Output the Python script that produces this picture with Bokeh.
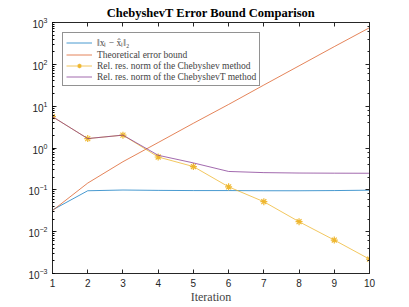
from bokeh.plotting import figure
from bokeh.models import LinearAxis, LogAxis, Range1d, FixedTicker, Legend, LegendItem
from bokeh.embed import file_html
from bokeh.resources import INLINE

iterations = [1, 2, 3, 4, 5, 6, 7, 8, 9, 10]
err_norm = [0.033, 0.095, 0.099, 0.097, 0.096, 0.096, 0.095, 0.095, 0.096, 0.098]
theory_bound = [0.032, 0.145, 0.47, 1.35, 3.9, 11.0, 32.0, 92.0, 265.0, 750.0]
cheb_res = [5.6, 1.68, 2.03, 0.61, 0.36, 0.118, 0.052, 0.0173, 0.0063, 0.0022]
chebT_res = [5.6, 1.68, 2.03, 0.67, 0.44, 0.275, 0.258, 0.252, 0.25, 0.249]
labels = ["‖xₗ − x̂ₗ‖₂", "Theoretical error bound",
          "Rel. res. norm of the Chebyshev method",
          "Rel. res. norm of the ChebyshevT method"]

AX = "#262626"
p = figure(frame_width=317, frame_height=251, y_axis_type="log",
           x_range=Range1d(1, 10), y_range=Range1d(1e-3, 1e3),
           output_backend="svg", toolbar_location=None,
           title="ChebyshevT Error Bound Comparison",
           min_border_left=52, min_border_right=26, min_border_top=0, min_border_bottom=0)
p.title.align = "center"
p.title.text_font = "Liberation Serif"
p.title.text_font_size = "12.5px"
p.title.text_font_style = "bold"
p.title.text_color = "#000000"
p.title.standoff = 6
p.grid.visible = False
p.outline_line_color = AX
p.outline_line_width = 0.8

p.xaxis.ticker = FixedTicker(ticks=iterations)
p.xaxis.axis_label = "Iteration"
p.xaxis.axis_label_text_font = "Liberation Serif"
p.xaxis.axis_label_text_font_style = "normal"
p.xaxis.axis_label_text_font_size = "12px"
p.xaxis.axis_label_standoff = 0
p.xaxis.minor_tick_line_color = None

for ax in [p.xaxis[0], p.yaxis[0]]:
    ax.major_tick_in = 4
    ax.major_tick_out = 0
    ax.minor_tick_in = 2
    ax.minor_tick_out = 0
    ax.axis_line_color = AX
    ax.major_tick_line_color = AX
    ax.major_label_text_font = "Liberation Sans"
    ax.major_label_text_font_size = "10px"
    ax.major_label_text_color = AX
    ax.major_label_standoff = 5

top = LinearAxis(ticker=FixedTicker(ticks=iterations), major_tick_in=4, major_tick_out=0,
                 minor_tick_line_color=None, major_label_text_font_size="1px",
                 major_label_text_alpha=0,
                 axis_line_color=AX, major_tick_line_color=AX, major_label_standoff=0)
right = LogAxis(major_tick_in=4, major_tick_out=0, minor_tick_in=2, minor_tick_out=0,
                major_label_text_font_size="1px", major_label_text_alpha=0,
                axis_line_color=AX,
                major_tick_line_color=AX, minor_tick_line_color=AX, major_label_standoff=0)
p.add_layout(top, "above")
p.add_layout(right, "right")

LA = 0.8
r1 = p.line(iterations, err_norm, line_color="#0072BD", line_width=0.9, line_alpha=LA)
r2 = p.line(iterations, theory_bound, line_color="#D95319", line_width=0.9, line_alpha=LA)
r3 = p.line(iterations, cheb_res, line_color="#EDB120", line_width=0.9, line_alpha=LA)
r3m = p.scatter(iterations, cheb_res, marker="asterisk", size=7, line_color="#EDB120",
                line_width=1.2, line_alpha=0.9)
r4 = p.line(iterations, chebT_res, line_color="#7E2F8E", line_width=0.9, line_alpha=LA)

legend = Legend(items=[LegendItem(label=labels[0], renderers=[r1]),
                       LegendItem(label=labels[1], renderers=[r2]),
                       LegendItem(label=labels[2], renderers=[r3, r3m]),
                       LegendItem(label=labels[3], renderers=[r4])],
                location="top_left", margin=10, padding=3, spacing=0,
                label_text_font="Liberation Serif", label_text_font_size="9.5px",
                label_height=11, glyph_height=11, glyph_width=26, label_standoff=5,
                border_line_color=AX, border_line_width=0.8)
p.add_layout(legend)

open("out.html", "w").write(file_html(p, INLINE))
